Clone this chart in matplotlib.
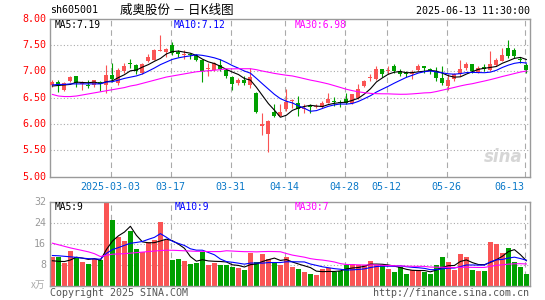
import matplotlib
matplotlib.use("Agg")
import matplotlib.pyplot as plt
import numpy as np
import pandas as pd

# ---- data (2025-02-17 .. 2025-06-13, 80 trading days)
open_ = [6.73, 6.80, 6.65, 6.82, 6.91, 6.75, 6.73, 6.73, 6.80, 6.73,
         6.93, 6.77, 7.00, 7.15, 7.12, 6.97, 7.20, 7.22, 7.39, 7.37,
         7.50, 7.37, 7.30, 7.32, 7.30, 7.21, 7.05, 7.03, 7.12, 7.02,
         6.89, 6.77, 6.83, 6.74, 6.59, 5.97, 5.81, 6.22, 6.16, 6.28,
         6.43, 6.39, 6.29, 6.34, 6.33, 6.33, 6.40, 6.43, 6.40, 6.47,
         6.40, 6.50, 6.72, 6.87, 6.86, 7.05, 7.01, 7.09, 7.01, 6.95,
         6.95, 7.02, 7.08, 7.05, 7.00, 6.87, 6.72, 6.86, 6.94, 7.06,
         7.13, 6.99, 7.08, 7.03, 7.11, 7.20, 7.44, 7.41, 7.23, 7.11]
close = [6.80, 6.74, 6.77, 6.89, 6.77, 6.76, 6.72, 6.83, 6.76, 6.93,
         6.85, 7.03, 7.10, 7.13, 7.00, 7.13, 7.27, 7.41, 7.40, 7.43,
         7.35, 7.32, 7.31, 7.30, 7.21, 7.01, 7.06, 7.15, 7.04, 6.91,
         6.76, 6.83, 6.77, 6.89, 6.23, 5.98, 6.06, 6.15, 6.22, 6.42,
         6.44, 6.28, 6.30, 6.33, 6.35, 6.39, 6.47, 6.42, 6.39, 6.40,
         6.56, 6.67, 6.82, 6.88, 7.05, 6.95, 7.02, 7.01, 6.94, 6.94,
         6.96, 7.09, 7.07, 7.02, 6.87, 6.77, 6.84, 6.94, 7.05, 7.13,
         7.00, 7.06, 7.04, 7.13, 7.22, 7.31, 7.28, 7.28, 7.22, 7.02]
high = [6.83, 6.83, 6.79, 6.91, 6.91, 6.82, 6.83, 6.84, 6.82, 7.12,
        7.15, 7.06, 7.15, 7.24, 7.13, 7.16, 7.33, 7.43, 7.68, 7.44,
        7.55, 7.41, 7.41, 7.35, 7.32, 7.24, 7.15, 7.17, 7.23, 7.03,
        6.91, 6.88, 6.91, 7.07, 6.60, 6.20, 6.08, 6.37, 6.37, 6.67,
        6.48, 6.53, 6.37, 6.37, 6.38, 6.43, 6.58, 6.51, 6.45, 6.59,
        6.57, 6.76, 6.84, 6.94, 7.09, 7.05, 7.09, 7.13, 7.04, 7.00,
        7.03, 7.14, 7.08, 7.06, 7.08, 7.09, 6.94, 6.96, 7.22, 7.17,
        7.13, 7.09, 7.13, 7.39, 7.25, 7.44, 7.60, 7.44, 7.27, 7.16]
low = [6.70, 6.60, 6.63, 6.80, 6.71, 6.65, 6.68, 6.71, 6.63, 6.59,
       6.80, 6.73, 6.97, 7.06, 6.94, 6.94, 7.17, 7.21, 7.38, 7.27,
       7.30, 7.27, 7.23, 7.23, 7.19, 6.80, 6.91, 7.00, 7.00, 6.88,
       6.65, 6.73, 6.73, 6.68, 6.21, 5.80, 5.46, 6.13, 6.15, 6.25,
       6.31, 6.15, 6.20, 6.21, 6.30, 6.31, 6.39, 6.34, 6.32, 6.37,
       6.37, 6.48, 6.70, 6.81, 6.84, 6.89, 6.95, 6.97, 6.91, 6.89,
       6.86, 7.00, 6.97, 6.94, 6.82, 6.74, 6.65, 6.82, 6.91, 7.03,
       6.97, 6.96, 7.00, 7.00, 7.09, 7.19, 7.25, 7.25, 7.16, 6.97]
# volume in 10k lots
volume = [10.8, 10.8, 8.6, 13.1, 10.9, 9.2, 8.3, 10.1, 9.9, 31.4,
          25.2, 18.4, 17.2, 21.0, 14.1, 12.8, 16.6, 17.5, 24.2, 17.5,
          9.9, 10.2, 9.5, 8.3, 8.8, 12.7, 7.9, 8.8, 7.9, 7.9,
          7.3, 6.7, 5.8, 12.4, 9.2, 11.9, 10.2, 8.9, 7.9, 10.9,
          7.3, 6.4, 5.4, 4.5, 4.1, 6.4, 6.7, 5.4, 5.6, 7.7,
          8.3, 7.7, 7.7, 9.6, 7.9, 7.9, 6.4, 5.4, 7.0, 4.5,
          6.0, 6.0, 5.4, 4.5, 7.9, 11.1, 9.2, 5.8, 12.2, 10.8,
          6.0, 5.5, 5.5, 16.6, 15.9, 12.6, 14.4, 9.2, 7.0, 4.3]

# moving-average values at the start of the window (need days before the chart)
ma5_head = [6.72, 6.73, 6.74, 6.75]
ma10_head = [6.74, 6.75, 6.75, 6.76, 6.76, 6.76, 6.76, 6.76, 6.76]
ma30_head = [6.56, 6.53, 6.52, 6.52, 6.53, 6.55, 6.57, 6.59, 6.61, 6.63,
             6.65, 6.67, 6.69, 6.72, 6.74, 6.77, 6.80, 6.83, 6.86, 6.89,
             6.91, 6.93, 6.95, 6.97, 6.99, 7.00, 7.01, 7.02, 7.03]
vma5_head = [9.5, 9.3, 9.2, 9.8]
vma10_head = [11.5, 11.4, 11.2, 11.0, 10.8, 10.5, 10.3, 10.2, 10.1]
vma30_head = [16.2, 15.6, 15.0, 14.4, 13.9, 13.4, 12.9, 12.2, 11.1, 11.6,
              12.0, 12.1, 12.2, 12.4, 12.6, 12.8, 13.0, 13.2, 13.4, 13.5,
              13.5, 13.4, 13.3, 13.2, 13.1, 13.1, 13.0, 13.0, 13.0]

tick_idx = [10, 20, 30, 39, 49, 56, 66, 79]
tick_labels = ['2025-03-03', '03-17', '03-31', '04-14', '04-28', '05-12', '05-26', '06-13']
price_ticks = [5.0, 5.5, 6.0, 6.5, 7.0, 7.5, 8.0]
vol_ticks = [8, 16, 24, 32]

RED = '#fa5454'
GREEN = '#00a000'
GRID = '#aaaaaa'
FRAME = '#9a9a9a'
MONO = 'DejaVu Sans Mono'
CJK = ['Noto Sans CJK SC', 'DejaVu Sans']

W, H = 545, 300


def ma(values, n, head):
    s = pd.Series(values).rolling(n).mean().to_numpy()
    s[:n - 1] = head
    return s


def px_axes(fig, left, top, right, bottom):
    return fig.add_axes([left / W, 1 - bottom / H, (right - left) / W, (bottom - top) / H])


def ftext(fig, x, y, s, **kw):
    fig.text(x / W, 1 - y / H, s, **kw)


o = np.array(open_)
c = np.array(close)
hi = np.array(high)
lo = np.array(low)
v = np.array(volume)
x = np.arange(len(c))
up = c >= o
colors = np.where(up, RED, GREEN)

fig = plt.figure(figsize=(W / 100, H / 100), dpi=100)

# ---------------- price panel
ax = px_axes(fig, 50, 18.5, 530, 176.7)
ax.set_xlim(-0.4, len(c) - 0.4)
ax.set_ylim(5.0, 8.0)

for y in price_ticks[1:-1]:
    ax.axhline(y, color=GRID, lw=0.8, ls=(0, (1, 2)), zorder=0)
for i in tick_idx:
    ax.axvline(i - 0.3, color=GRID, lw=0.8, ls=(0, (5, 3.5)), zorder=0)

ax.vlines(x, lo, hi, colors=colors, lw=0.8, zorder=2)
body_lo = np.minimum(o, c)
body_h = np.maximum(np.abs(c - o), 0.02)
ax.bar(x, body_h, bottom=body_lo, width=0.68, color=colors, lw=0, zorder=3)

ax.plot(x, ma(c, 5, ma5_head), color='black', lw=0.8, zorder=4)
ax.plot(x, ma(c, 10, ma10_head), color='#0000ff', lw=0.8, zorder=4)
ax.plot(x, ma(c, 30, ma30_head), color='#ff00ff', lw=0.8, zorder=4)

ax.set_xticks([])
ax.set_yticks([])
for sp in ax.spines.values():
    sp.set_color(FRAME)
    sp.set_linewidth(1)

# sina watermark
ax.text(0.985, 0.07, 'sina', transform=ax.transAxes, ha='right', va='bottom',
        fontsize=12, fontstyle='italic', fontweight='bold', color='#d6d6d6', zorder=1)

# ---------------- volume panel
axv = px_axes(fig, 50, 201.7, 530, 285.7)
axv.set_xlim(-0.4, len(c) - 0.4)
axv.set_ylim(0, 32)
for y in vol_ticks[:-1]:
    axv.axhline(y, color=GRID, lw=0.8, ls=(0, (1, 2)), zorder=0)
for i in tick_idx:
    axv.axvline(i - 0.3, color=GRID, lw=0.8, ls=(0, (5, 3.5)), zorder=0)
axv.bar(x, v, width=0.84, color=colors, lw=0, zorder=2)
axv.plot(x, ma(v, 5, vma5_head), color='black', lw=0.8, zorder=4)
axv.plot(x, ma(v, 10, vma10_head), color='#0000ff', lw=0.8, zorder=4)
axv.plot(x, ma(v, 30, vma30_head), color='#ff00ff', lw=0.8, zorder=4)
axv.set_xticks([])
axv.set_yticks([])
for sp in axv.spines.values():
    sp.set_color(FRAME)
    sp.set_linewidth(1)

# ---------------- texts
ftext(fig, 50, 10, 'sh605001', family=MONO, fontsize=7.2, va='center', ha='left')
ftext(fig, 120, 10, '威奥股份 － 日K线图', family=CJK, fontsize=9, va='center', ha='left')
ftext(fig, 530, 10.5, '2025-06-13 11:30:00', family=MONO, fontsize=7.2, va='center', ha='right')

ftext(fig, 55, 24.5, 'MA5:7.19', family=MONO, fontsize=6.9, va='center', color='black')
ftext(fig, 174, 24.5, 'MA10:7.12', family=MONO, fontsize=6.9, va='center', color='#0000ff')
ftext(fig, 295, 24.5, 'MA30:6.98', family=MONO, fontsize=6.9, va='center', color='#ff00ff')

for p in price_ticks:
    yy = 176.7 - (p - 5.0) / 3.0 * (176.7 - 18.5)
    ftext(fig, 46, yy, f'{p:.2f}', family=MONO, fontsize=7.2, va='center', ha='right', color='red')

for i, lab in zip(tick_idx, tick_labels):
    xx = 50 + (i - 0.3 + 0.4) * 6
    if lab == tick_labels[-1]:
        ftext(fig, 524, 187, lab, family=MONO, fontsize=7.2, va='center', ha='right', color='#0a78c8')
    else:
        ftext(fig, xx, 187, lab, family=MONO, fontsize=7.2, va='center', ha='center', color='#0a78c8')

ftext(fig, 55, 207, 'MA5:9', family=MONO, fontsize=6.9, va='center', color='black')
ftext(fig, 175, 207, 'MA10:9', family=MONO, fontsize=6.9, va='center', color='#0000ff')
ftext(fig, 295, 207, 'MA30:7', family=MONO, fontsize=6.9, va='center', color='#ff00ff')

for t in vol_ticks:
    yy = 285.7 - t / 32 * (285.7 - 201.7)
    ftext(fig, 46, yy, str(t), family=MONO, fontsize=7.2, va='center', ha='right', color='#999999')
ftext(fig, 45, 285, 'x万', family=CJK, fontsize=7, va='center', ha='right', color='#aaaaaa')

ftext(fig, 50, 293, 'Copyright 2025 SINA.COM', family=MONO, fontsize=7.2, va='center', ha='left', color='#555555')
ftext(fig, 529, 293, 'http://finance.sina.com.cn', family=MONO, fontsize=7.2, va='center', ha='right', color='#555555')

fig.savefig('out.png', dpi=100)
